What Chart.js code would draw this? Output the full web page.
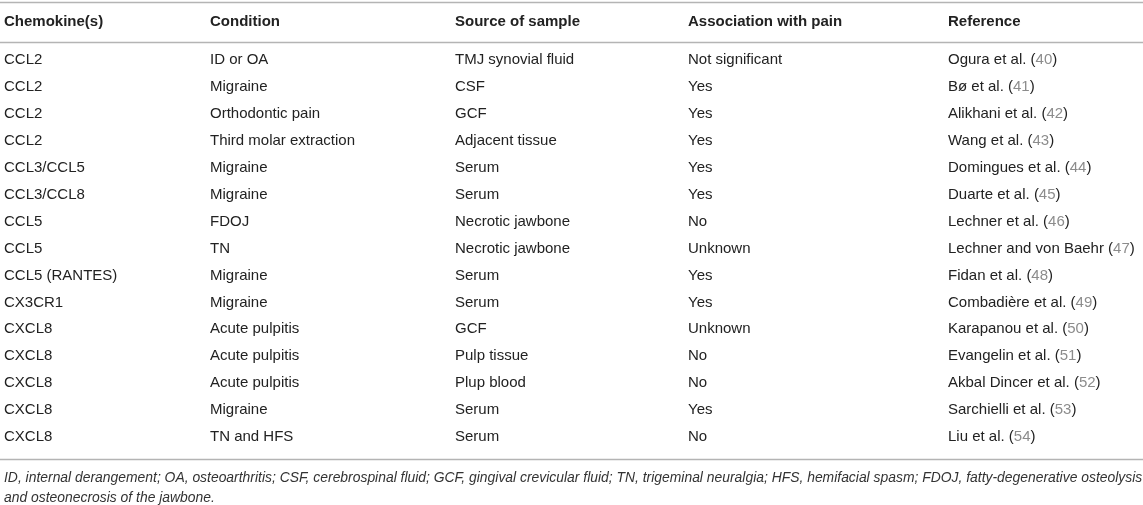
<!DOCTYPE html>
<html>
<head>
<meta charset="utf-8">
<script src="https://cdn.jsdelivr.net/npm/chart.js@4/dist/chart.umd.min.js"></script>
<style>
  html, body { margin: 0; padding: 0; background: #fff; }
  #wrap { width: 1143px; height: 505px; position: relative; }
</style>
</head>
<body>
<div id="wrap"><canvas id="table-chart"></canvas></div>
<script>
const columns = ['Chemokine(s)', 'Condition', 'Source of sample', 'Association with pain', 'Reference'];

const chemokines = ['CCL2', 'CCL2', 'CCL2', 'CCL2', 'CCL3/CCL5', 'CCL3/CCL8', 'CCL5', 'CCL5',
    'CCL5 (RANTES)', 'CX3CR1', 'CXCL8', 'CXCL8', 'CXCL8', 'CXCL8', 'CXCL8'];
const conditions = ['ID or OA', 'Migraine', 'Orthodontic pain', 'Third molar extraction', 'Migraine',
    'Migraine', 'FDOJ', 'TN', 'Migraine', 'Migraine', 'Acute pulpitis', 'Acute pulpitis',
    'Acute pulpitis', 'Migraine', 'TN and HFS'];
const sources = ['TMJ synovial fluid', 'CSF', 'GCF', 'Adjacent tissue', 'Serum', 'Serum',
    'Necrotic jawbone', 'Necrotic jawbone', 'Serum', 'Serum', 'GCF', 'Pulp tissue', 'Plup blood',
    'Serum', 'Serum'];
const associations = ['Not significant', 'Yes', 'Yes', 'Yes', 'Yes', 'Yes', 'No', 'Unknown', 'Yes',
    'Yes', 'Unknown', 'No', 'No', 'Yes', 'No'];
const refAuthors = ['Ogura et al.', 'Bø et al.', 'Alikhani et al.', 'Wang et al.', 'Domingues et al.',
    'Duarte et al.', 'Lechner et al.', 'Lechner and von Baehr', 'Fidan et al.', 'Combadière et al.',
    'Karapanou et al.', 'Evangelin et al.', 'Akbal Dincer et al.', 'Sarchielli et al.', 'Liu et al.'];
const refNumbers = [40, 41, 42, 43, 44, 45, 46, 47, 48, 49, 50, 51, 52, 53, 54];

const footnote = [
    'ID, internal derangement; OA, osteoarthritis; CSF, cerebrospinal fluid; GCF, gingival crevicular fluid; TN, trigeminal neuralgia; HFS, hemifacial spasm; FDOJ, fatty-degenerative osteolysis',
    'and osteonecrosis of the jawbone.'
];

// layout (pixels on x, row units on y)
const colLeft = [4, 210, 455, 688, 948];
const headerRow = -1.41;
const ruleRows = [-2.16, -0.66, 14.82];
const footRows = [15.53, 16.27];

const cellText = [chemokines, conditions, sources, associations, refAuthors];

function cellPoints(c) {
    return cellText[c].map((_, r) => ({ x: colLeft[c], y: r }));
}

const datasets = columns.map((name, c) => ({
    label: name,
    data: cellPoints(c),
    pointRadius: 0,
    showLine: false
}));
datasets.push({
    label: 'header',
    data: columns.map((_, c) => ({ x: colLeft[c], y: headerRow })),
    pointRadius: 0,
    showLine: false
});
datasets.push({
    label: 'footnote',
    data: footnote.map((_, i) => ({ x: colLeft[0], y: footRows[i] })),
    pointRadius: 0,
    showLine: false
});

const tableText = {
    id: 'tableText',
    afterDatasetsDraw(chart) {
        const ctx = chart.ctx;
        const yScale = chart.scales.y;
        ctx.save();

        // horizontal rules
        ctx.strokeStyle = '#b4b4b4';
        ctx.lineWidth = 1.6;
        ruleRows.forEach(r => {
            const y = Math.round(yScale.getPixelForValue(r)) + 0.5;
            ctx.beginPath();
            ctx.moveTo(0, y);
            ctx.lineTo(chart.width, y);
            ctx.stroke();
        });

        ctx.textBaseline = 'middle';
        ctx.textAlign = 'left';

        // body cells
        const bodyFont = '15px "Liberation Sans", Arial, sans-serif';
        for (let c = 0; c < columns.length; c++) {
            const meta = chart.getDatasetMeta(c);
            meta.data.forEach((pt, r) => {
                ctx.font = bodyFont;
                ctx.fillStyle = '#222';
                if (c === 4) {
                    let x = pt.x;
                    const first = refAuthors[r] + ' (';
                    ctx.fillText(first, x, pt.y);
                    x += ctx.measureText(first).width;
                    ctx.fillStyle = '#8c8c8c';
                    const num = String(refNumbers[r]);
                    ctx.fillText(num, x, pt.y);
                    x += ctx.measureText(num).width;
                    ctx.fillStyle = '#222';
                    ctx.fillText(')', x, pt.y);
                } else {
                    ctx.fillText(cellText[c][r], pt.x, pt.y);
                }
            });
        }

        // header
        ctx.font = 'bold 15px "Liberation Sans", Arial, sans-serif';
        ctx.fillStyle = '#222';
        chart.getDatasetMeta(columns.length).data.forEach((pt, c) => {
            ctx.fillText(columns[c], pt.x, pt.y);
        });

        // footnote
        ctx.font = 'italic 13.9px "Liberation Sans", Arial, sans-serif';
        ctx.fillStyle = '#333';
        chart.getDatasetMeta(columns.length + 1).data.forEach((pt, i) => {
            ctx.fillText(footnote[i], pt.x, pt.y);
        });

        ctx.restore();
    }
};

new Chart(document.getElementById('table-chart').getContext('2d'), {
    type: 'scatter',
    data: { datasets: datasets },
    options: {
        responsive: true,
        maintainAspectRatio: false,
        animation: false,
        events: [],
        layout: { padding: 0 },
        plugins: {
            legend: { display: false },
            tooltip: { enabled: false }
        },
        scales: {
            x: { type: 'linear', display: false, min: 0, max: 1143 },
            y: { type: 'linear', display: false, reverse: true, min: -2.228, max: 16.524 }
        }
    },
    plugins: [tableText]
});
</script>
</body>
</html>
